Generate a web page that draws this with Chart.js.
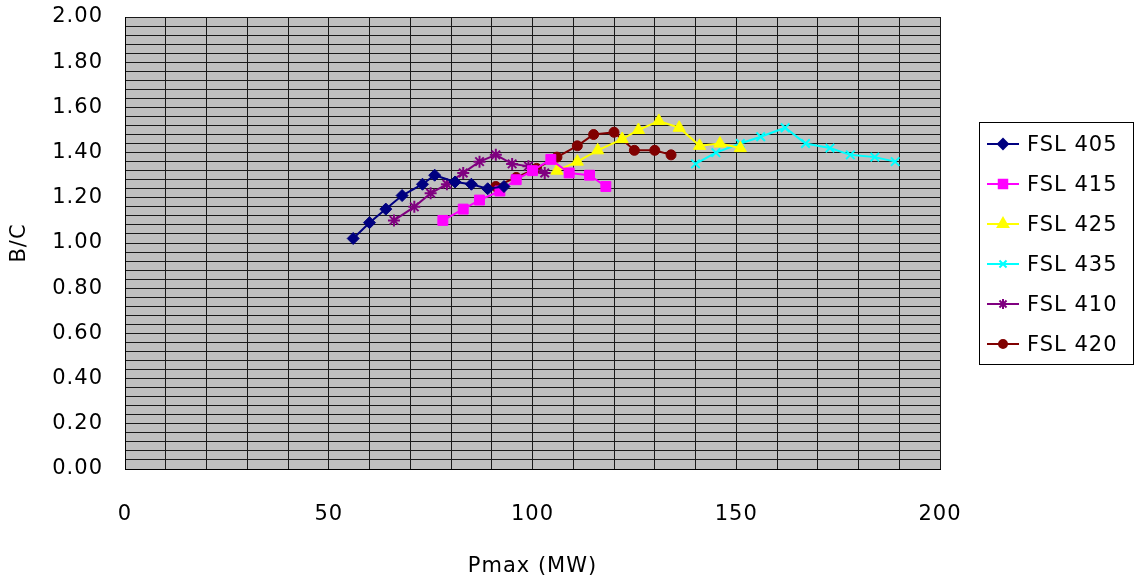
<!DOCTYPE html>
<html>
<head>
<meta charset="utf-8">
<script src="https://cdn.jsdelivr.net/npm/chart.js@4.4.0/dist/chart.umd.min.js"></script>
<style>
  html, body { margin: 0; padding: 0; background: #fff; }
  #grafico { display: block; }
</style>
</head>
<body>
<canvas id="grafico" width="1136" height="582"></canvas>
<script>
// Dati
const seriesNames = ['FSL 405', 'FSL 415', 'FSL 425', 'FSL 435', 'FSL 410', 'FSL 420'];

const x405 = [56, 60, 64, 68, 73, 76, 81, 85, 89, 93];
const y405 = [1.02, 1.09, 1.15, 1.21, 1.26, 1.30, 1.27, 1.26, 1.24, 1.25];

const x415 = [78, 83, 87, 92, 96, 100, 104.5, 109, 114, 118];
const y415 = [1.10, 1.15, 1.19, 1.23, 1.28, 1.32, 1.37, 1.31, 1.30, 1.25];

const x425 = [106, 111, 116, 122, 126, 131, 136, 141, 146, 151];
const y425 = [1.32, 1.36, 1.41, 1.46, 1.50, 1.54, 1.51, 1.43, 1.44, 1.42];

const x435 = [140, 145, 151, 156, 162, 167, 173, 178, 184, 189];
const y435 = [1.35, 1.40, 1.44, 1.47, 1.51, 1.44, 1.42, 1.39, 1.38, 1.36];

const x410 = [66, 71, 75, 79, 83, 87, 91, 95, 99, 103];
const y410 = [1.10, 1.16, 1.22, 1.26, 1.31, 1.36, 1.39, 1.35, 1.34, 1.31];

const x420 = [91, 96, 101, 106, 111, 115, 120, 125, 130, 134];
const y420 = [1.25, 1.29, 1.33, 1.38, 1.43, 1.48, 1.49, 1.41, 1.41, 1.39];

const xTickLabels = [0, 50, 100, 150, 200];
const yTickLabels = ['0.00', '0.20', '0.40', '0.60', '0.80', '1.00', '1.20', '1.40', '1.60', '1.80', '2.00'];

const seriesX = [x405, x415, x425, x435, x410, x420];
const seriesY = [y405, y415, y425, y435, y410, y420];
const colori = ['#000080', '#FF00FF', '#FFFF00', '#00FFFF', '#800080', '#800000'];
const simboli = ['rectRot', 'rect', 'triangle', 'crossRot', 'star', 'circle'];
const raggi = [6, 7, 7, 6, 6, 5];

const fontBase = { family: 'DejaVu Sans', size: 21 };

function punti(xs, ys) {
    return xs.map((x, i) => ({ x: x, y: ys[i] }));
}

function spessore(i) {
    return (simboli[i] === 'crossRot' || simboli[i] === 'star') ? 2 : 1;
}

const datasets = seriesNames.map((nome, i) => ({
    label: nome,
    data: punti(seriesX[i], seriesY[i]),
    borderColor: colori[i],
    backgroundColor: colori[i],
    pointBackgroundColor: colori[i],
    pointBorderColor: colori[i],
    pointStyle: simboli[i],
    pointRadius: raggi[i],
    pointBorderWidth: spessore(i),
    borderWidth: 2,
    showLine: true,
    fill: false,
    tension: 0
}));

// sfondo grigio dell'area del grafico + spaziatura lettere
const sfondoPlugin = {
    id: 'sfondo',
    beforeDraw(chart) {
        const { ctx, chartArea: a } = chart;
        ctx.letterSpacing = '1px';
        ctx.save();
        ctx.fillStyle = '#C0C0C0';
        ctx.fillRect(a.left, a.top, a.right - a.left, a.bottom - a.top);
        ctx.restore();
    }
};

// legenda con bordo a destra
const legendaPlugin = {
    id: 'legenda',
    afterDraw(chart) {
        const ctx = chart.ctx;
        ctx.save();
        ctx.strokeStyle = '#000';
        ctx.lineWidth = 1;
        ctx.strokeRect(979.5, 122.5, 154, 242);
        ctx.font = fontBase.size + 'px ' + fontBase.family;
        ctx.textBaseline = 'middle';
        ctx.textAlign = 'left';
        seriesNames.forEach((nome, i) => {
            const y = 144 + 40 * i;
            ctx.strokeStyle = colori[i];
            ctx.lineWidth = 2;
            ctx.beginPath();
            ctx.moveTo(987, y);
            ctx.lineTo(1019, y);
            ctx.stroke();
            ctx.fillStyle = colori[i];
            Chart.helpers.drawPoint(ctx, {
                pointStyle: simboli[i],
                radius: raggi[i] - 1,
                rotation: 0,
                borderWidth: spessore(i)
            }, 1003, y);
            ctx.fillStyle = '#000';
            ctx.fillText(nome, 1027, y + 2);
        });
        ctx.restore();
    }
};

const ctx = document.getElementById('grafico').getContext('2d');
const myChart = new Chart(ctx, {
    type: 'scatter',
    data: { datasets: datasets },
    options: {
        responsive: false,
        animation: false,
        devicePixelRatio: 1,
        layout: { padding: { top: 17, right: 196, bottom: 0, left: 0 } },
        plugins: {
            legend: { display: false },
            tooltip: { enabled: false }
        },
        scales: {
            x: {
                type: 'linear',
                min: 0,
                max: 200,
                afterFit(scale) {
                    scale.height = 113;
                    scale.paddingLeft = 0;
                    scale.paddingRight = 0;
                },
                ticks: {
                    stepSize: 10,
                    autoSkip: false,
                    maxRotation: 0,
                    padding: 33,
                    color: '#000',
                    font: fontBase,
                    callback: (v) => xTickLabels.includes(v) ? String(v) : ''
                },
                grid: { color: '#1a1a1a', lineWidth: 1, drawTicks: false },
                border: { display: true, color: '#000', width: 1 },
                title: { display: true, text: 'Pmax (MW)', color: '#000', font: fontBase, padding: { top: 0, bottom: 3 } }
            },
            y: {
                type: 'linear',
                min: 0,
                max: 2,
                afterFit(scale) {
                    scale.width = 125;
                    scale.paddingTop = 0;
                    scale.paddingBottom = 0;
                },
                ticks: {
                    stepSize: 0.04,
                    autoSkip: false,
                    padding: 22,
                    color: '#000',
                    font: fontBase,
                    callback: (v) => {
                        const k = Math.round(v * 100);
                        return k % 20 === 0 ? yTickLabels[k / 20] : '';
                    }
                },
                grid: { color: '#1a1a1a', lineWidth: 1, drawTicks: false },
                border: { display: true, color: '#000', width: 1 },
                title: { display: true, text: 'B/C', color: '#000', font: fontBase, padding: { top: 7, bottom: 0 } }
            }
        }
    },
    plugins: [sfondoPlugin, legendaPlugin]
});
</script>
</body>
</html>
